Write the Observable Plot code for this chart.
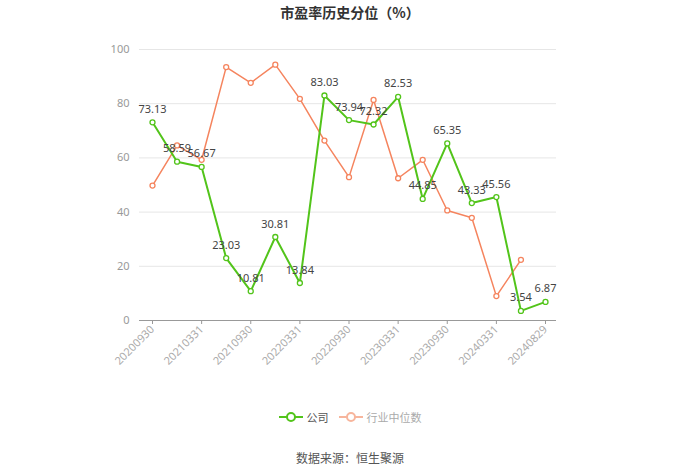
<!DOCTYPE html>
<html>
<head>
<meta charset="utf-8">
<script src="https://cdn.jsdelivr.net/npm/d3@7"></script>
<script src="https://cdn.jsdelivr.net/npm/@observablehq/plot@0.6"></script>
<style>
  body { margin: 0; background: #fff; font-family: "Noto Sans CJK SC", "Noto Sans", sans-serif; }
  #wrap { width: 700px; height: 474px; position: relative; }
  #title { position: absolute; top: 2px; left: 0; width: 700px; text-align: center; font-size: 14px; font-weight: bold; color: #333; line-height: 20px; }
  #chart { position: absolute; top: 26px; left: 0; }
  #legend { position: absolute; top: 407px; left: 0; width: 700px; text-align: center; font-size: 11px; color: #666; line-height: 20px; }
  #legend span.item { display: inline-flex; align-items: center; margin: 0 5px; }
  #legend svg { margin-right: 4px; }
  #caption { position: absolute; top: 448px; left: 0; width: 700px; text-align: center; font-size: 12px; color: #555; line-height: 20px; }
</style>
</head>
<body>
<div id="wrap">
  <div id="title">市盈率历史分位（%）</div>
  <div id="chart"></div>
  <div id="legend"></div>
  <div id="caption">数据来源：恒生聚源</div>
</div>
<script>
const dates = ["20200930","20201231","20210331","20210630","20210930","20211231","20220331","20220630","20220930","20221231","20230331","20230630","20230930","20231231","20240331","20240630","20240829"];
const companyValues = [73.13,58.59,56.67,23.03,10.81,30.81,13.84,83.03,73.94,72.32,82.53,44.85,65.35,43.33,45.56,3.54,6.87];
const industryDates = dates.slice(0, 16);
const industryValues = [49.8,64.6,59.3,93.5,87.7,94.4,81.8,66.4,52.9,81.4,52.5,59.3,40.6,37.9,9.0,22.4];
const tickLabels = ["20200930","20210331","20210930","20220331","20220930","20230331","20230930","20240331","20240829"];
const yTicks = [0,20,40,60,80,100];
const seriesNames = ["公司","行业中位数"];
const green = "#52c41a";
const orange = "#f5845e";

const company = dates.map((d, i) => ({date: d, value: companyValues[i]}));
const industry = industryDates.map((d, i) => ({date: d, value: industryValues[i]}));

const chart = Plot.plot({
  width: 700,
  height: 375,
  marginTop: 23,
  marginBottom: 81,
  marginLeft: 139,
  marginRight: 144,
  style: {fontFamily: "'Noto Sans', sans-serif", fontSize: "11px", background: "transparent"},
  x: {type: "point", domain: dates, range: [152, 545], padding: 0, round: false},
  y: {domain: [0, 100]},
  marks: [
    Plot.gridY(yTicks, {stroke: "#e6e6e6", strokeOpacity: 1}),
    Plot.axisY(yTicks, {tickSize: 0, tickPadding: 10, fill: "#999", label: null}),
    Plot.ruleY([0], {stroke: "#999"}),
    Plot.axisX(tickLabels, {tickSize: 4, stroke: "#999", tickRotate: -45, fill: "#aaa", tickPadding: 3, label: null}),
    Plot.line(industry, {x: "date", y: "value", stroke: orange, strokeWidth: 1.5}),
    Plot.dot(industry, {x: "date", y: "value", r: 2.5, stroke: orange, fill: "#fff", strokeWidth: 1.3}),
    Plot.line(company, {x: "date", y: "value", stroke: green, strokeWidth: 2}),
    Plot.dot(company, {x: "date", y: "value", r: 2.5, stroke: green, fill: "#fff", strokeWidth: 1.3}),
    Plot.text(company, {x: "date", y: "value", text: d => d.value.toFixed(2), dy: -13, fill: "#444", fontSize: 11})
  ]
});
document.getElementById("chart").appendChild(chart);

const legendColors = [green, "#f7b59c"];
const legend = document.getElementById("legend");
seriesNames.forEach((name, i) => {
  const c = legendColors[i];
  const item = document.createElement("span");
  item.className = "item";
  item.innerHTML = `<svg width="24" height="12"><line x1="0" y1="6" x2="24" y2="6" stroke="${c}" stroke-width="2"/><circle cx="12" cy="6" r="4" fill="#fff" stroke="${c}" stroke-width="2"/></svg><span style="color:${i===0?'#555':'#aaa'}">${name}</span>`;
  legend.appendChild(item);
});
</script>
</body>
</html>
